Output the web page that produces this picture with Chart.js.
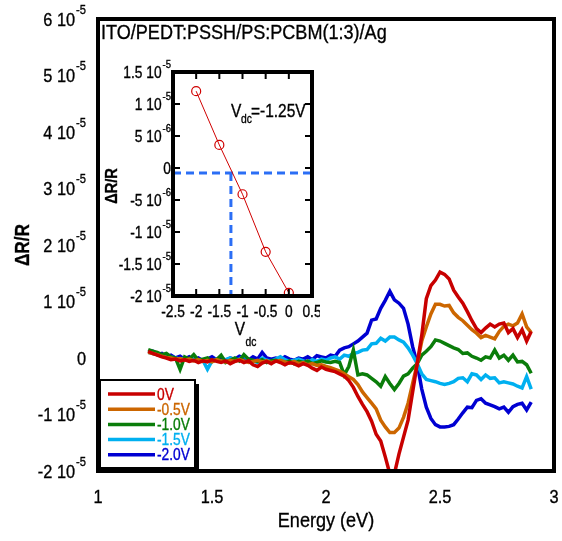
<!DOCTYPE html>
<html>
<head>
<meta charset="utf-8">
<script src="https://cdn.jsdelivr.net/npm/chart.js@4.4.1/dist/chart.umd.min.js"></script>
<style>
  body { margin: 0; background: #fff; }
  #wrap { position: relative; width: 562px; height: 541px; }
  #mainChart { position: absolute; left: 0; top: 0; }
  #insetChart { position: absolute; left: 100px; top: 50px; }
</style>
</head>
<body>
<div id="wrap">
  <canvas id="mainChart" width="562" height="541"></canvas>
  <canvas id="insetChart" width="220" height="300"></canvas>
</div>
<script>
// values of dR/R are given in units of 1e-5
const UNIT = 1e-5;

const energy = [1.22, 1.24, 1.26, 1.28, 1.30, 1.32, 1.34, 1.36, 1.38, 1.40,
  1.42, 1.44, 1.46, 1.48, 1.50, 1.52, 1.54, 1.56, 1.58, 1.60,
  1.62, 1.64, 1.66, 1.68, 1.70, 1.72, 1.74, 1.76, 1.78, 1.80,
  1.82, 1.84, 1.86, 1.88, 1.90, 1.92, 1.94, 1.96, 1.98, 2.00,
  2.02, 2.04, 2.06, 2.08, 2.10, 2.12, 2.14, 2.16, 2.18, 2.20,
  2.22, 2.24, 2.26, 2.28, 2.30, 2.32, 2.34, 2.36, 2.38, 2.40,
  2.42, 2.44, 2.46, 2.48, 2.50, 2.52, 2.54, 2.56, 2.58, 2.60,
  2.62, 2.64, 2.66, 2.68, 2.70, 2.72, 2.74, 2.76, 2.78, 2.80,
  2.82, 2.84, 2.86, 2.88, 2.90];

const dr0V = [0.12, 0.08, 0.05, 0.02, 0.0, -0.03, -0.02, -0.05, -0.03, -0.06,
  -0.04, -0.08, -0.05, -0.07, -0.03, -0.06, -0.08, -0.05, -0.1, -0.06,
  -0.04, -0.08, -0.05, -0.12, -0.15, -0.09, -0.06, -0.1, -0.05, -0.08,
  -0.12, -0.08, -0.1, -0.14, -0.1, -0.13, -0.18, -0.22, -0.16, -0.2,
  -0.22, -0.24, -0.28, -0.32, -0.4, -0.52, -0.68, -0.82, -0.95, -1.12,
  -1.35, -1.47, -1.75, -2.05, -2.05, -1.7, -1.4, -1.1, -0.6, -0.1,
  0.4, 1.05, 1.28, 1.38, 1.52, 1.48, 1.4, 1.2, 1.08, 0.97,
  0.82, 0.66, 0.52, 0.45, 0.53, 0.6, 0.55, 0.6, 0.62, 0.45,
  0.52, 0.36, 0.5, 0.3, 0.47];

const drM05V = [0.1, 0.08, 0.06, 0.03, 0.01, 0.0, -0.02, -0.01, -0.04, -0.02,
  -0.05, -0.03, -0.06, -0.04, -0.07, -0.03, -0.05, -0.07, -0.04, -0.06,
  -0.03, -0.05, -0.08, -0.06, -0.04, -0.07, -0.05, -0.08, -0.06, -0.04,
  -0.07, -0.09, -0.06, -0.1, -0.08, -0.12, -0.1, -0.13, -0.12, -0.15,
  -0.17, -0.2, -0.23, -0.28, -0.33, -0.38, -0.47, -0.6, -0.7, -0.8,
  -0.9, -1.1, -1.22, -1.32, -1.32, -1.24, -1.05, -0.8, -0.45, -0.1,
  0.3, 0.55, 0.78, 0.95, 0.95, 0.92, 0.93, 0.8, 0.72, 0.66,
  0.58, 0.5, 0.44, 0.36, 0.4, 0.37, 0.34, 0.47, 0.56, 0.6,
  0.57, 0.62, 0.78, 0.55, 0.45];

const drM10V = [0.15, 0.12, 0.1, 0.06, 0.08, 0.02, 0.0, -0.2, 0.02, -0.02,
  0.06, -0.04, -0.02, 0.0, -0.06, -0.03, 0.05, -0.08, -0.04, 0.0,
  -0.05, 0.06, -0.02, -0.04, -0.06, -0.03, -0.08, -0.05, -0.04, -0.06,
  -0.08, -0.05, -0.1, -0.06, -0.08, -0.05, -0.1, -0.08, -0.05, -0.07,
  -0.08, -0.06, -0.08, -0.3, -0.15, 0.14, -0.3, -0.28, -0.3, -0.36,
  -0.42, -0.5, -0.33, -0.45, -0.56, -0.45, -0.32, -0.28, -0.18, -0.1,
  0.05, 0.12, 0.2, 0.32, 0.3, 0.26, 0.22, 0.18, 0.15, 0.08,
  0.09, 0.03, 0.0, -0.04, 0.02, 0.0, 0.14, 0.0, 0.05, -0.04,
  0.05, -0.07, -0.06, -0.12, -0.27];

const drM15V = [0.1, 0.08, 0.06, 0.04, 0.05, 0.02, 0.0, -0.02, 0.0, -0.03,
  -0.02, -0.05, -0.04, -0.2, -0.05, -0.02, -0.06, -0.03, 0.0, -0.04,
  -0.02, 0.04, -0.03, -0.05, -0.08, 0.0, -0.04, -0.06, -0.02, 0.02,
  -0.03, -0.06, -0.04, -0.02, -0.05, -0.08, -0.03, -0.06, -0.02, -0.04,
  0.0, 0.02, -0.02, 0.05, 0.03, 0.08, 0.1, 0.14, 0.15, 0.25,
  0.26, 0.35, 0.3, 0.37, 0.37, 0.32, 0.28, 0.18, 0.05, -0.1,
  -0.28, -0.38, -0.4, -0.42, -0.45, -0.47, -0.45, -0.42, -0.36, -0.35,
  -0.42, -0.28, -0.3, -0.38, -0.3, -0.36, -0.35, -0.44, -0.42, -0.44,
  -0.46, -0.5, -0.53, -0.33, -0.55];

const drM20V = [0.1, 0.12, 0.06, 0.08, 0.02, 0.05, 0.0, 0.03, -0.02, 0.02,
  -0.03, 0.0, -0.05, -0.02, 0.02, -0.03, 0.0, -0.04, 0.0, -0.02,
  0.03, 0.0, -0.04, 0.02, -0.02, 0.1, 0.0, -0.02, 0.0, -0.03,
  0.02, -0.02, -0.04, 0.0, -0.02, 0.02, -0.03, 0.04, 0.02, 0.0,
  0.05, 0.03, 0.14, 0.18, 0.2, 0.25, 0.3, 0.37, 0.44, 0.67,
  0.69, 0.88, 1.02, 1.18, 1.03, 0.97, 0.88, 0.6, 0.2, -0.1,
  -0.55, -0.87, -1.07, -1.18, -1.22, -1.22, -1.21, -1.18, -1.08, -0.97,
  -0.87, -0.88, -0.75, -0.72, -0.8, -0.83, -0.86, -0.9, -0.87, -0.96,
  -0.86, -0.82, -0.8, -0.92, -0.78];

const seriesLabels = ['0V', '-0.5V', '-1.0V', '-1.5V', '-2.0V'];
const seriesColors = ['#c80000', '#cc6600', '#0a7d0a', '#00b0f0', '#0000d2'];
const seriesValues = [dr0V, drM05V, drM10V, drM15V, drM20V];

const mainYTicks = [-2, -1, 0, 1, 2, 3, 4, 5, 6];
const mainYTickBase = ['-2 10', '-1 10', '0', '1 10', '2 10', '3 10', '4 10', '5 10', '6 10'];
const mainYTickExp = ['-5', '-5', '', '-5', '-5', '-5', '-5', '-5', '-5'];
const mainXTicks = [1, 1.5, 2, 2.5, 3];
const mainXTickLabels = ['1', '1.5', '2', '2.5', '3'];

// inset: dR/R versus dc bias
const insetVdc = [-2, -1.5, -1, -0.5, 0];
const insetDeltaR = [1.2e-5, 0.36e-5, -0.41e-5, -1.31e-5, -1.95e-5];
const vdcZero = -1.25;
const zeroLevel = -0.08e-5;
const insetYTicks = [-2e-5, -1.5e-5, -1e-5, -5e-6, 0, 5e-6, 1e-5, 1.5e-5];
const insetYTickBase = ['-2 10', '-1.5 10', '-1 10', '-5 10', '0', '5 10', '1 10', '1.5 10'];
const insetYTickExp = ['-5', '-5', '-5', '-6', '', '-6', '-5', '-5'];
const insetXTicks = [-2.5, -2, -1.5, -1, -0.5, 0, 0.5];
const insetXTickLabels = ['-2.5', '-2', '-1.5', '-1', '-0.5', '0', '0.5'];

const FONT = '"Liberation Sans", Arial, sans-serif';
// the original uses a condensed face, so text is squeezed horizontally
const NARROW = 0.86;

function narrowText(ctx, str, x, y, font, align) {
    ctx.save();
    ctx.font = font;
    ctx.textAlign = align || 'left';
    ctx.textBaseline = 'alphabetic';
    ctx.translate(x, y);
    ctx.scale(NARROW, 1);
    ctx.fillText(str, 0, 0);
    // slightly heavier strokes, like the original print
    ctx.strokeStyle = ctx.fillStyle;
    ctx.lineWidth = 0.35;
    ctx.strokeText(str, 0, 0);
    ctx.restore();
}

function narrowWidth(ctx, str, font) {
    ctx.font = font;
    return ctx.measureText(str).width * NARROW;
}

// base text with a raised exponent, right aligned at xRight, centred on y
function drawSupLabel(ctx, base, exp, xRight, y, size, supSize) {
    const bf = size + 'px ' + FONT, sf = supSize + 'px ' + FONT;
    const bw = narrowWidth(ctx, base, bf);
    const ew = exp ? narrowWidth(ctx, exp, sf) + 1 : 0;
    const x0 = xRight - bw - ew;
    narrowText(ctx, base, x0, y + size * 0.35, bf);
    if (exp) narrowText(ctx, exp, x0 + bw + 1, y - size * 0.28, sf);
}

const mainDecor = {
    id: 'mainDecor',
    afterDatasetsDraw(chart) {
        const ctx = chart.ctx;
        const a = chart.chartArea;
        const xs = chart.scales.x, ys = chart.scales.y;
        ctx.save();
        ctx.fillStyle = '#000';
        ctx.strokeStyle = '#000';

        // frame
        ctx.lineWidth = 4;
        ctx.strokeRect(a.left, a.top, a.right - a.left, a.bottom - a.top);

        // y tick labels
        mainYTicks.forEach((v, i) => {
            drawSupLabel(ctx, mainYTickBase[i], mainYTickExp[i], 86, ys.getPixelForValue(v * UNIT), 19, 13);
        });
        // x tick labels
        mainXTicks.forEach((v, i) => {
            narrowText(ctx, mainXTickLabels[i], xs.getPixelForValue(v), 503, '19px ' + FONT, 'center');
        });

        // axis titles
        narrowText(ctx, 'Energy (eV)', (a.left + a.right) / 2, 527, '21px ' + FONT, 'center');
        ctx.save();
        ctx.translate(29, 245);
        ctx.rotate(-Math.PI / 2);
        narrowText(ctx, '\u0394R/R', 0, 0, 'bold 20px ' + FONT, 'center');
        ctx.restore();

        // sample title
        narrowText(ctx, 'ITO/PEDT:PSSH/PS:PCBM(1:3)/Ag', a.left + 3, 39, '21px ' + FONT);

        // legend box with shadow
        const bx = 100, by = 380, bw = 95, bh = 88;
        ctx.fillStyle = '#000';
        ctx.fillRect(bx + 4, by + 4, bw, bh);
        ctx.fillStyle = '#fff';
        ctx.fillRect(bx, by, bw, bh);
        ctx.lineWidth = 2;
        ctx.strokeRect(bx, by, bw, bh);
        chart.data.datasets.forEach((ds, i) => {
            const ly = 394 + i * 15.2;
            ctx.strokeStyle = ds.borderColor;
            ctx.lineWidth = 3.5;
            ctx.beginPath();
            ctx.moveTo(108, ly);
            ctx.lineTo(155, ly);
            ctx.stroke();
            ctx.fillStyle = ds.borderColor;
            narrowText(ctx, ds.label, 157, ly + 5.5, '16px ' + FONT);
        });
        ctx.restore();
    }
};

new Chart(document.getElementById('mainChart'), {
    type: 'line',
    data: {
        datasets: seriesValues.map((vals, i) => ({
            label: seriesLabels[i],
            data: energy.map((e, k) => ({ x: e, y: vals[k] * UNIT })),
            borderColor: seriesColors[i],
            borderWidth: 3.5,
            pointRadius: 0,
            tension: 0,
            fill: false
        }))
    },
    options: {
        responsive: false,
        animation: false,
        layout: { padding: { left: 98, right: 8, top: 19, bottom: 70 } },
        plugins: { legend: { display: false }, tooltip: { enabled: false } },
        scales: {
            x: { type: 'linear', min: 1, max: 3, display: false },
            y: { type: 'linear', min: -2 * UNIT, max: 6 * UNIT, display: false }
        }
    },
    plugins: [mainDecor]
});

const insetDecor = {
    id: 'insetDecor',
    afterDatasetsDraw(chart) {
        const ctx = chart.ctx;
        const a = chart.chartArea;
        const xs = chart.scales.x, ys = chart.scales.y;
        ctx.save();
        ctx.fillStyle = '#000';
        ctx.strokeStyle = '#000';

        // inward ticks on all four sides
        ctx.lineWidth = 2;
        ctx.beginPath();
        insetXTicks.forEach(v => {
            const px = xs.getPixelForValue(v);
            ctx.moveTo(px, a.bottom); ctx.lineTo(px, a.bottom - 7);
            ctx.moveTo(px, a.top); ctx.lineTo(px, a.top + 7);
        });
        insetYTicks.forEach(v => {
            const py = ys.getPixelForValue(v);
            ctx.moveTo(a.left, py); ctx.lineTo(a.left + 7, py);
            ctx.moveTo(a.right, py); ctx.lineTo(a.right - 7, py);
        });
        ctx.stroke();

        ctx.lineWidth = 4;
        ctx.strokeRect(a.left, a.top, a.right - a.left, a.bottom - a.top);

        insetYTicks.forEach((v, i) => {
            drawSupLabel(ctx, insetYTickBase[i], insetYTickExp[i], 71, ys.getPixelForValue(v), 16, 11);
        });
        insetXTicks.forEach((v, i) => {
            narrowText(ctx, insetXTickLabels[i], xs.getPixelForValue(v), a.bottom + 21, '16px ' + FONT, 'center');
        });

        // x title V_dc
        narrowText(ctx, 'V', 140, 285, '18px ' + FONT, 'center');
        narrowText(ctx, 'dc', 151, 296, '12px ' + FONT, 'center');

        // y title
        ctx.save();
        ctx.translate(17, 136);
        ctx.rotate(-Math.PI / 2);
        narrowText(ctx, '\u0394R/R', 0, 0, 'bold 17px ' + FONT, 'center');
        ctx.restore();

        // annotation
        narrowText(ctx, 'V', 131, 67, '18px ' + FONT);
        narrowText(ctx, 'dc', 141, 73, '12px ' + FONT);
        narrowText(ctx, '=-1.25V', 151, 67, '18px ' + FONT);
        ctx.restore();
    }
};

new Chart(document.getElementById('insetChart'), {
    type: 'line',
    data: {
        datasets: [
            {
                label: 'dR/R',
                data: insetVdc.map((v, i) => ({ x: v, y: insetDeltaR[i] })),
                borderColor: '#d00000',
                borderWidth: 1,
                pointRadius: 4.5,
                pointBorderWidth: 1.2,
                pointBackgroundColor: 'rgba(255,255,255,0)',
                pointBorderColor: '#d00000',
                tension: 0
            },
            {
                label: 'zero level',
                data: [{ x: -2.5, y: zeroLevel }, { x: 0.5, y: zeroLevel }],
                borderColor: '#2b6ef5',
                borderWidth: 3,
                borderDash: [8, 5],
                pointRadius: 0
            },
            {
                label: 'Vdc',
                data: [{ x: vdcZero, y: zeroLevel }, { x: vdcZero, y: -2e-5 }],
                borderColor: '#2b6ef5',
                borderWidth: 3,
                borderDash: [8, 5],
                pointRadius: 0
            }
        ]
    },
    options: {
        responsive: false,
        animation: false,
        layout: { padding: { left: 73, right: 8, top: 22, bottom: 54 } },
        plugins: { legend: { display: false }, tooltip: { enabled: false } },
        scales: {
            x: { type: 'linear', min: -2.5, max: 0.5, display: false },
            y: { type: 'linear', min: -2e-5, max: 1.5e-5, display: false }
        }
    },
    plugins: [insetDecor]
});
</script>
</body>
</html>
